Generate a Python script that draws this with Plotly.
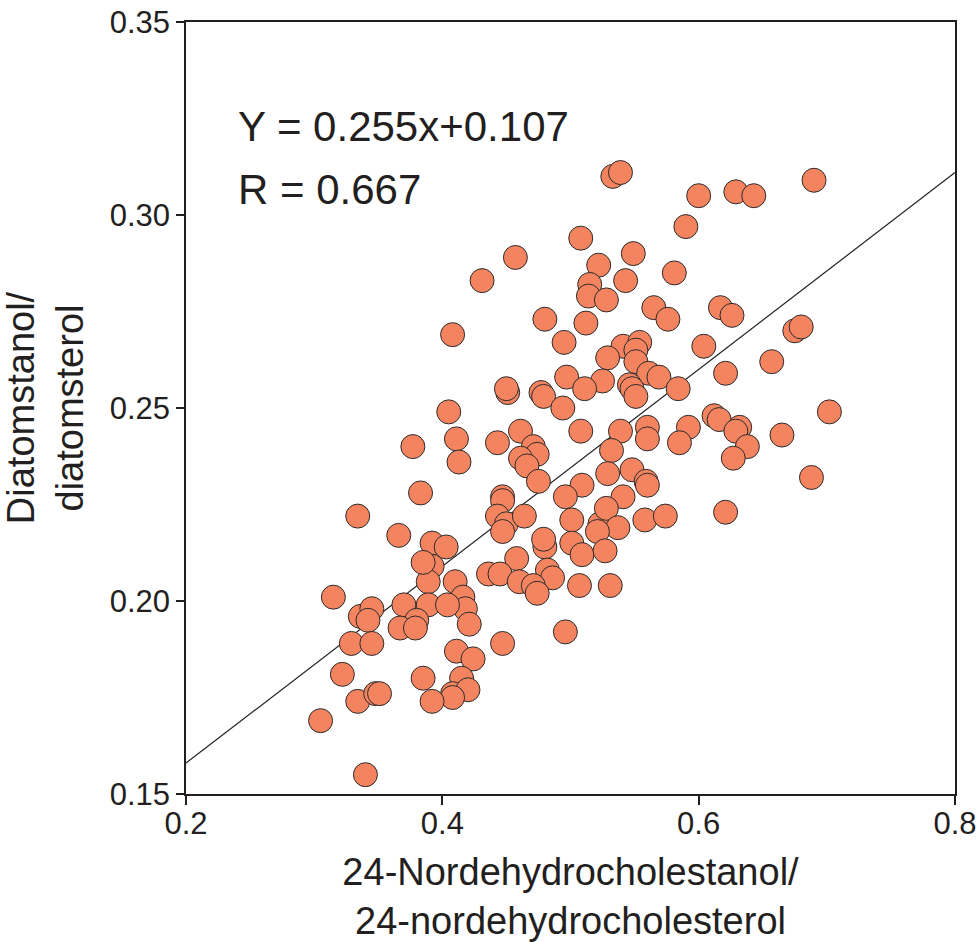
import plotly.graph_objects as go

# 24-nordehydrocholestanol / 24-nordehydrocholesterol ratio
ratio_x = [
    0.533, 0.539, 0.600, 0.629, 0.643, 0.690, 0.590, 0.508, 0.549, 0.457,
    0.522, 0.581, 0.431, 0.515, 0.514, 0.528, 0.543, 0.617, 0.626, 0.565,
    0.576, 0.480, 0.512, 0.675, 0.680, 0.408, 0.495, 0.604, 0.657, 0.621,
    0.541, 0.554, 0.551, 0.529, 0.551, 0.561, 0.569, 0.497, 0.525, 0.546,
    0.548, 0.551, 0.584, 0.511, 0.451, 0.450, 0.477, 0.479, 0.494, 0.612,
    0.616, 0.632, 0.629, 0.702, 0.665, 0.508, 0.539, 0.560, 0.560, 0.592,
    0.585, 0.532, 0.405, 0.411, 0.413, 0.443, 0.461, 0.471, 0.474, 0.461,
    0.466, 0.475, 0.377, 0.638, 0.627, 0.688, 0.621, 0.529, 0.548, 0.559,
    0.560, 0.541, 0.509, 0.496, 0.447, 0.447, 0.443, 0.450, 0.464, 0.447,
    0.501, 0.523, 0.528, 0.537, 0.521, 0.558, 0.574, 0.501, 0.509, 0.527,
    0.480, 0.479, 0.458, 0.482, 0.486, 0.436, 0.445, 0.460, 0.471, 0.474,
    0.507, 0.531, 0.392, 0.403, 0.392, 0.389, 0.410, 0.416, 0.418, 0.421,
    0.389, 0.404, 0.383, 0.334, 0.366, 0.385, 0.315, 0.336, 0.345, 0.342,
    0.370, 0.380, 0.367, 0.379, 0.329, 0.345, 0.447, 0.411, 0.424, 0.322,
    0.385, 0.415, 0.408, 0.420, 0.408, 0.392, 0.334, 0.348, 0.351, 0.305,
    0.340, 0.496,
]

# diatomstanol / diatomsterol ratio
ratio_y = [
    0.310, 0.311, 0.305, 0.306, 0.305, 0.309, 0.297, 0.294, 0.290, 0.289,
    0.287, 0.285, 0.283, 0.282, 0.279, 0.278, 0.283, 0.276, 0.274, 0.276,
    0.273, 0.273, 0.272, 0.270, 0.271, 0.269, 0.267, 0.266, 0.262, 0.259,
    0.266, 0.267, 0.265, 0.263, 0.262, 0.259, 0.258, 0.258, 0.257, 0.256,
    0.255, 0.253, 0.255, 0.255, 0.254, 0.255, 0.254, 0.253, 0.250, 0.248,
    0.247, 0.245, 0.244, 0.249, 0.243, 0.244, 0.244, 0.245, 0.242, 0.245,
    0.241, 0.239, 0.249, 0.242, 0.236, 0.241, 0.244, 0.240, 0.238, 0.237,
    0.235, 0.231, 0.240, 0.240, 0.237, 0.232, 0.223, 0.233, 0.234, 0.231,
    0.230, 0.227, 0.230, 0.227, 0.227, 0.226, 0.222, 0.220, 0.222, 0.218,
    0.221, 0.220, 0.224, 0.219, 0.218, 0.221, 0.222, 0.215, 0.212, 0.213,
    0.214, 0.216, 0.211, 0.208, 0.206, 0.207, 0.207, 0.205, 0.204, 0.202,
    0.204, 0.204, 0.215, 0.214, 0.209, 0.205, 0.205, 0.201, 0.198, 0.194,
    0.199, 0.199, 0.228, 0.222, 0.217, 0.210, 0.201, 0.196, 0.198, 0.195,
    0.199, 0.195, 0.193, 0.193, 0.189, 0.189, 0.189, 0.187, 0.185, 0.181,
    0.180, 0.180, 0.176, 0.177, 0.175, 0.174, 0.174, 0.176, 0.176, 0.169,
    0.155, 0.192,
]

# regression: Y = 0.255x + 0.107, R = 0.667
slope = 0.255
intercept = 0.107
r_value = 0.667
fit_x = [0.2, 0.8]
fit_y = [slope * v + intercept for v in fit_x]

x_ticks = [0.2, 0.4, 0.6, 0.8]
y_ticks = [0.15, 0.20, 0.25, 0.30, 0.35]

FONT = "Arial, 'Liberation Sans', Helvetica, sans-serif"
INK = "#231f20"

fig = go.Figure()

fig.add_trace(go.Scatter(
    x=fit_x, y=fit_y, mode="lines",
    line=dict(color=INK, width=1.2),
    hoverinfo="skip", showlegend=False,
))

fig.add_trace(go.Scatter(
    x=ratio_x, y=ratio_y, mode="markers",
    marker=dict(size=24, color="#F4845F",
                line=dict(color="#2b2b2b", width=1)),
    showlegend=False,
))

fig.add_annotation(
    x=0.2390, y=0.3228, xref="x", yref="y",
    text=f"Y = {slope:.3f}x+{intercept:.3f}",
    showarrow=False, xanchor="left", yanchor="middle",
    font=dict(family=FONT, size=42, color=INK),
)
fig.add_annotation(
    x=0.2390, y=0.3065, xref="x", yref="y",
    text=f"R = {r_value:.3f}",
    showarrow=False, xanchor="left", yanchor="middle",
    font=dict(family=FONT, size=42, color=INK),
)

axis_common = dict(
    showgrid=False, zeroline=False, automargin=False,
    showline=True, linecolor=INK, linewidth=1.5, mirror=True,
    ticks="outside", tickcolor=INK, tickwidth=1.5,
    tickfont=dict(family=FONT, size=31, color=INK),
)

fig.update_xaxes(
    range=[0.2, 0.8], tickvals=x_ticks,
    ticktext=[f"{v:.1f}" for v in x_ticks], ticklen=9,
    ticklabelstandoff=-8,
    title=dict(text="24-Nordehydrocholestanol/<br>24-nordehydrocholesterol",
               font=dict(family=FONT, size=38, color=INK), standoff=22),
    **axis_common,
)
fig.update_yaxes(
    range=[0.15, 0.35], tickvals=y_ticks,
    ticktext=[f"{v:.2f}" for v in y_ticks], ticklen=8,
    title=dict(text="Diatomstanol/<br>diatomsterol",
               font=dict(family=FONT, size=38, color=INK), standoff=18),
    **axis_common,
)

fig.update_layout(
    width=977, height=942,
    margin=dict(l=186, r=22, t=22, b=148),
    paper_bgcolor="white", plot_bgcolor="white",
)

fig.write_html("out.html")
